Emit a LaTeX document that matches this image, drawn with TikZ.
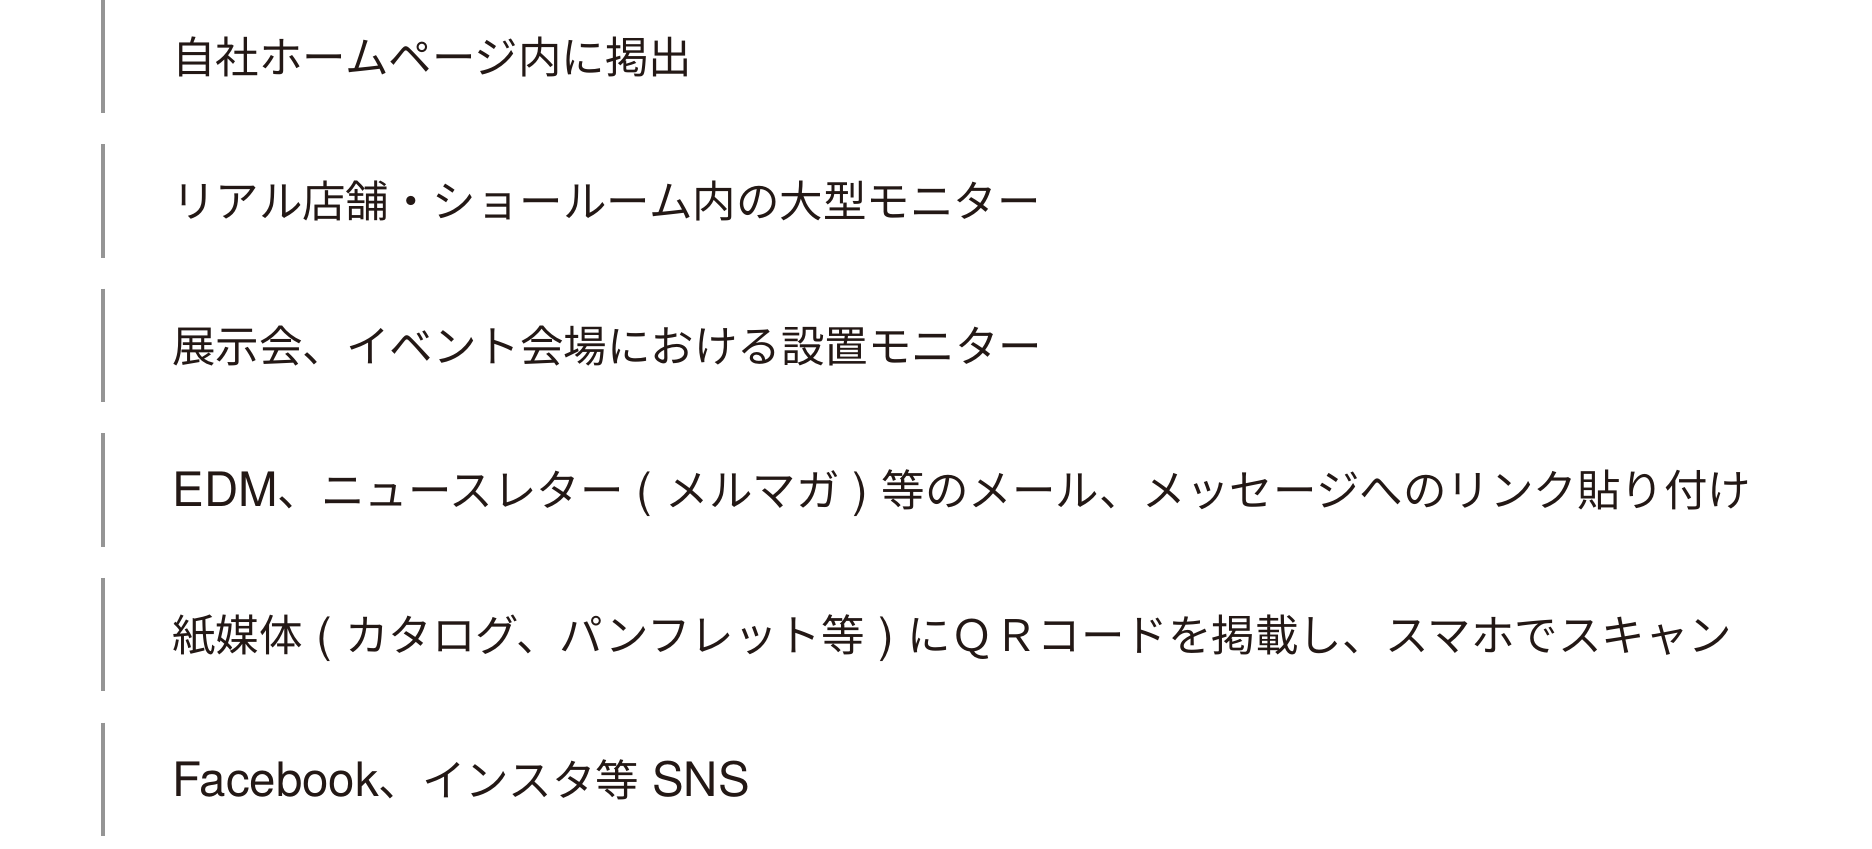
\documentclass[tikz,border=0pt]{standalone}
\usepackage{fontspec}
\setmainfont{Noto Sans CJK JP}
\newfontfamily\latfont[Scale=1.09]{TeX Gyre Heros}
\newcommand{\lat}[1]{{\latfont #1}}
\definecolor{ink}{HTML}{231815}
\definecolor{barc}{HTML}{959595}
\begin{document}
\begin{tikzpicture}[x=0.5pt,y=-0.5pt,
  itembar/.style={draw=barc,line width=2pt},
  itemtext/.style={anchor=base west,inner sep=0pt,text=ink,font=\fontsize{21.75pt}{26pt}\selectfont}]
\useasboundingbox (0,0) rectangle (1872,848);
\foreach \i/\t in {0/{自社ホームページ内に掲出},
  1/{リアル店舗・ショールーム内の大型モニター},
  2/{展示会、イベント会場における設置モニター},
  3/{\lat{EDM}、ニュースレター\lat{ ( }メルマガ\lat{ ) }等のメール、メッセージへのリンク貼り付け},
  4/{紙媒体\lat{ ( }カタログ、パンフレット等\lat{ ) }にＱＲコードを掲載し、スマホでスキャン},
  5/{\lat{Facebook}、インスタ等\lat{ SNS}}}{
  \coordinate (top\i) at (103,{-0.5+144.6*\i});
  \coordinate (bot\i) at (103,{113+144.6*\i});
  \draw[itembar] (top\i) -- (bot\i);
  \node[itemtext] (txt\i) at (172,{73+144.6*\i}) {\t};
}
\end{tikzpicture}
\end{document}
